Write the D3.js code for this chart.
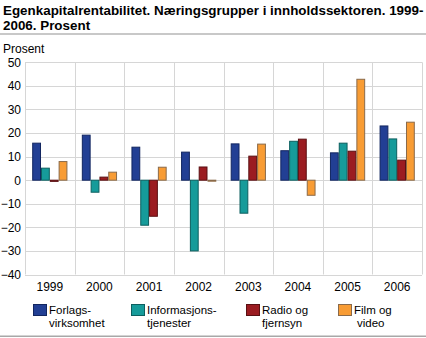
<!DOCTYPE html>
<html><head><meta charset="utf-8">
<script src="https://cdn.jsdelivr.net/npm/d3@7"></script>
<style>
body{margin:0;background:#fff;}
svg{display:block;font-family:"Liberation Sans",Arial,sans-serif;}
</style></head>
<body><svg id="c" width="426" height="338"></svg>
<script>
const years = ["1999","2000","2001","2002","2003","2004","2005","2006"];
const seriesNames = ["Forlags-\nvirksomhet","Informasjons-\ntjenester","Radio og\nfjernsyn","Film og\nvideo"];
const forlag = [15.7, 19.1, 14.0, 11.9, 15.4, 12.5, 11.6, 23.0];
const info = [5.1, -5.1, -19.1, -30.0, -14.0, 16.5, 15.7, 17.5];
const radio = [-0.5, 1.3, -15.3, 5.6, 10.2, 17.4, 12.3, 8.5];
const film = [7.9, 3.4, 5.5, -0.3, 15.3, -6.4, 42.8, 24.6];
const yTicks = [50, 40, 30, 20, 10, 0, -10, -20, -30, -40];
const fills = ["#223f94", "#169b9a", "#9b1c21", "#f89c34"];
const strokes = ["#122660", "#0d5f5f", "#5a1013", "#8a6a4a"];

(function () {
const series = [forlag, info, radio, film];
const svg = d3.select("#c");
const FF = "'Liberation Sans',Arial,sans-serif";

const t = svg.append("text").attr("font-weight","bold").attr("font-size",13.4).attr("fill","#000");
t.append("tspan").attr("x",3).attr("y",15).text("Egenkapitalrentabilitet. Næringsgrupper i innholdssektoren. 1999-");
t.append("tspan").attr("x",3).attr("y",29.5).text("2006. Prosent");
svg.append("rect").attr("x",0).attr("y",33).attr("width",426).attr("height",2).attr("fill","#c8c8c8");
svg.append("text").attr("x",3).attr("y",53).attr("font-size",12).text("Prosent");

const pl = 25, pr = 422, pt = 62.3, pb = 274.5;
const y = d3.scaleLinear().domain([-40, 50]).range([pb, pt]);
const x0 = d3.scaleBand().domain(years).range([pl, pr]);
const x1 = d3.scaleBand().domain(d3.range(4)).range([7.2, x0.bandwidth() - 7.2]);

const g = svg.append("g");
g.selectAll("line.h").data(yTicks).enter().append("line")
  .attr("x1", pl).attr("x2", pr)
  .attr("y1", d => Math.round(y(d)) + 0.5).attr("y2", d => Math.round(y(d)) + 0.5)
  .attr("stroke", "#d6d6d6").attr("stroke-width", 1);
const vx = years.map(d => x0(d)).concat([pr]);
g.selectAll("line.v").data(vx).enter().append("line")
  .attr("x1", d => Math.round(d) + 0.5).attr("x2", d => Math.round(d) + 0.5)
  .attr("y1", pt).attr("y2", pb)
  .attr("stroke", "#d6d6d6").attr("stroke-width", 1);

const yAxis = d3.axisLeft(y).tickValues(yTicks).tickSize(0).tickPadding(0);
const ya = svg.append("g").attr("transform", "translate(21,0)").call(yAxis);
ya.select(".domain").remove();
ya.selectAll("text").attr("font-size", 12).attr("fill", "#000").attr("font-family", FF);

const xAxis = d3.axisBottom(x0).tickSize(0).tickPadding(0);
const xa = svg.append("g").attr("transform", "translate(0,282)").call(xAxis);
xa.select(".domain").remove();
xa.selectAll("text").attr("font-size", 12).attr("fill", "#000").attr("font-family", FF);

series.forEach((vals, si) => {
  svg.append("g").selectAll("rect").data(vals).enter().append("rect")
    .attr("x", (d, i) => x0(years[i]) + x1(si) + 0.5)
    .attr("width", x1.bandwidth() - 1)
    .attr("y", d => Math.min(y(d), y(0)))
    .attr("height", d => Math.max(Math.abs(y(d) - y(0)), 1))
    .attr("fill", fills[si]).attr("stroke", strokes[si]).attr("stroke-width", 1);
});

const legX = [33, 131, 246, 338];
seriesNames.forEach((name, i) => {
  const lg = svg.append("g");
  lg.append("rect").attr("x", legX[i] + 0.5).attr("y", 304.5).attr("width", 13).attr("height", 11)
    .attr("fill", fills[i]).attr("stroke", strokes[i]);
  const lines = name.split("\n");
  lg.append("text").attr("font-size", 11.5).attr("fill", "#000")
    .attr("x", legX[i] + 16).attr("y", 314).text(lines[0]);
  lg.append("text").attr("font-size", 11.5).attr("fill", "#000")
    .attr("x", legX[i] + 16 + (i === 3 ? 3 : 0)).attr("y", 326.5).text(lines[1]);
});
svg.append("rect").attr("x", 0).attr("y", 335.5).attr("width", 426).attr("height", 1.5).attr("fill", "#a8a8a8");
})();
</script></body></html>
